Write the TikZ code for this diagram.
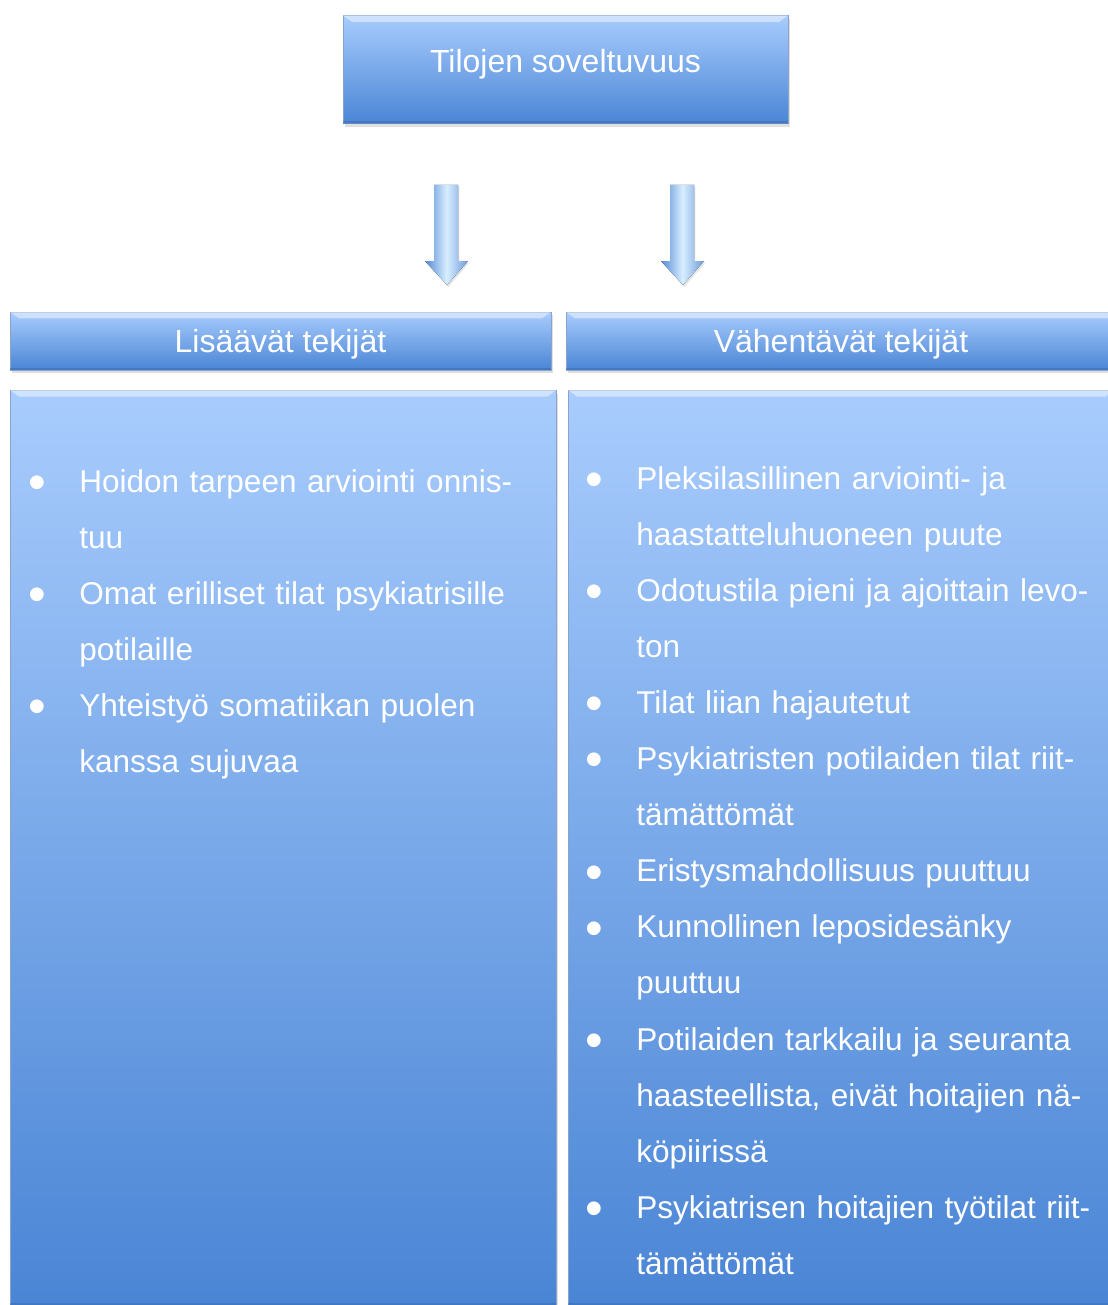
\documentclass[tikz,border=0pt]{standalone}
\usepackage{fontspec}
\setmainfont{Liberation Sans}
\usetikzlibrary{calc,shadows}

\definecolor{boxtop}{RGB}{168,204,253}
\definecolor{boxbottom}{RGB}{74,133,213}
\definecolor{boxedge}{RGB}{58,104,170}
\definecolor{arrowdark}{RGB}{84,138,214}
\definecolor{arrowlight}{RGB}{216,238,255}

% light top rim and dark lower rim of a raised box
\newcommand\bevel[1]{%
  \fill[white, opacity=.45] (#1.north west) -- (#1.north east)
    -- ($(#1.north east)+(-7pt,-5pt)$) -- ($(#1.north west)+(7pt,-5pt)$) -- cycle;
  \fill[boxedge, opacity=.45] (#1.south west) rectangle ($(#1.south east)+(0,2pt)$);
}
% list bullet, hung left of the first line
\newcommand\itembullet{\llap{\raisebox{-5.6pt}{\scalebox{1.6}{\textbullet}}\hspace{24.8pt}}}

\begin{document}
\begin{tikzpicture}[
  x=0.75pt, y=-0.75pt,
  bevelbox/.style={top color=boxtop, bottom color=boxbottom,
                   draw=boxedge!60, line width=0.3pt, inner sep=0,
                   drop shadow={shadow xshift=1.5pt, shadow yshift=-2.5pt,
                                opacity=.25},
                   text=white, font=\fontsize{24}{28}\selectfont},
  entry/.style={text=white, font=\fontsize{23.65}{42.1}\selectfont,
                align=left, text width=360pt, inner sep=0, anchor=base west}
]
\useasboundingbox (0,0) rectangle (1107,1305);

%--- top box --------------------------------------------------------------
\node[bevelbox, minimum width=333.75pt, minimum height=81pt,
  text height=12pt, text depth=8.2pt] (soveltuvuus)
  at (565.5,69.5) {Tilojen soveltuvuus};
\bevel{soveltuvuus}

%--- arrows ---------------------------------------------------------------
\foreach \ax in {446,682}{
  \fill[left color=arrowdark, right color=arrowdark!85!white,
        middle color=arrowlight,
        drop shadow={shadow xshift=1pt, shadow yshift=-1.5pt, opacity=.2}]
    (\ax-12,185) -- (\ax+12,185) -- (\ax+12,261) -- (\ax+22,261)
    -- (\ax+1,285) -- (\ax-21,261) -- (\ax-12,261) -- cycle;
}

%--- headers --------------------------------------------------------------
\node[bevelbox, minimum width=405.75pt, minimum height=43.5pt,
  text height=20pt, text depth=3.5pt] (lisaavat)
  at (280.5,341) {Lisäävät tekijät};
\bevel{lisaavat}
\node[bevelbox, minimum width=412.5pt, minimum height=43.5pt,
  text height=20pt, text depth=3.5pt] (vahentavat)
  at (841,341) {Vähentävät tekijät};
\bevel{vahentavat}

%--- panels ---------------------------------------------------------------
\node[bevelbox, anchor=north west, minimum width=409.5pt,
  minimum height=686.25pt] (lpanel) at (10,390) {};
\bevel{lpanel}
\node[bevelbox, anchor=north west, minimum width=409.5pt,
  minimum height=686.25pt] (rpanel) at (568,390) {};
\bevel{rpanel}

% left items
\node[entry] (l1) at (79,492)
  {\itembullet Hoidon tarpeen arviointi onnis-\\tuu};
\node[entry] (l2) at (79,604.2)
  {\itembullet Omat erilliset tilat psykiatrisille\\potilaille};
\node[entry] (l3) at (79,716.4)
  {\itembullet Yhteistyö somatiikan puolen\\kanssa sujuvaa};

% right items
\node[entry] (r1) at (636,489)
  {\itembullet Pleksilasillinen arviointi- ja\\haastatteluhuoneen puute};
\node[entry] (r2) at (636,601.2)
  {\itembullet Odotustila pieni ja ajoittain levo-\\ton};
\node[entry] (r3) at (636,713.4)
  {\itembullet Tilat liian hajautetut};
\node[entry] (r4) at (636,769.5)
  {\itembullet Psykiatristen potilaiden tilat riit-\\tämättömät};
\node[entry] (r5) at (636,881.7)
  {\itembullet Eristysmahdollisuus puuttuu};
\node[entry] (r6) at (636,937.8)
  {\itembullet Kunnollinen leposidesänky\\puuttuu};
\node[entry] (r7) at (636,1050)
  {\itembullet Potilaiden tarkkailu ja seuranta\\haasteellista, eivät hoitajien nä-\\köpiirissä};
\node[entry] (r8) at (636,1218.3)
  {\itembullet Psykiatrisen hoitajien työtilat riit-\\tämättömät};

\end{tikzpicture}
\end{document}
